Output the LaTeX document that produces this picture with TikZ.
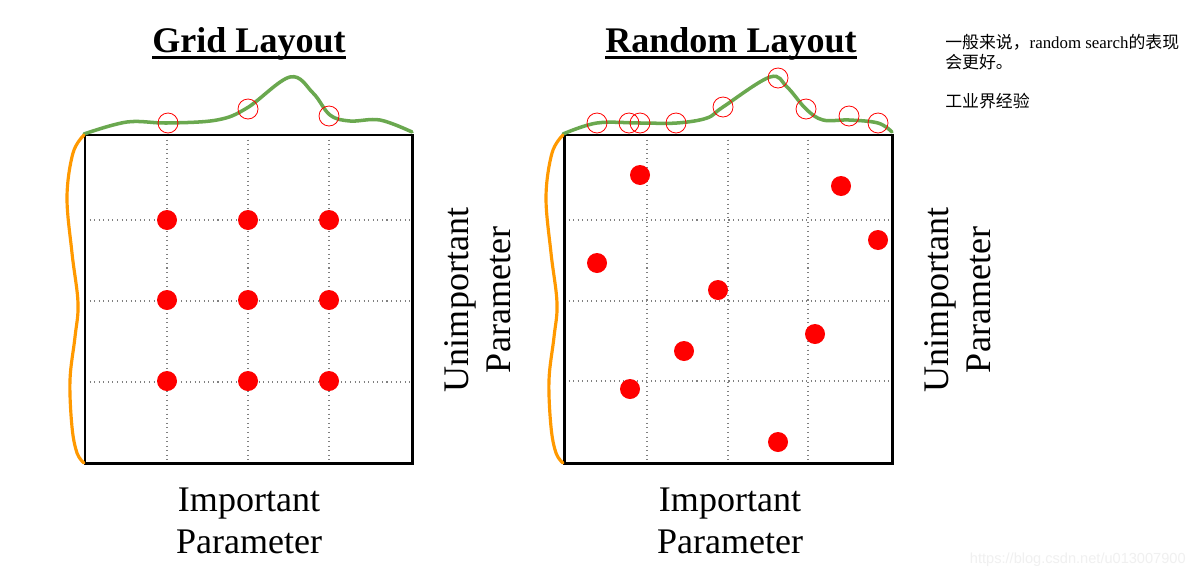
\documentclass[tikz,border=0pt]{standalone}
\usepackage{fontspec}
\setmainfont{Liberation Serif}
\setsansfont{Liberation Sans}
\newfontfamily\cjk{Noto Sans CJK SC}
\usetikzlibrary{calc}
\definecolor{curvegreen}{RGB}{106,168,79}
\definecolor{curveorange}{RGB}{255,153,0}
\definecolor{markred}{RGB}{255,0,0}

\tikzset{
  frame/.style={line width=1.7pt},
  gridline/.style={gray,dotted,line width=0.6pt},
  goodcurve/.style={curvegreen,line width=2pt,line cap=round},
  sidecurve/.style={curveorange,line width=1.8pt,line cap=round},
  sample/.style={fill=markred},
  hit/.style={markred,line width=0.45pt},
  bigtext/.style={font=\fontsize{20.5}{23.5}\selectfont,align=center,inner sep=0pt},
  titletext/.style={font=\fontsize{20.5}{24}\selectfont\bfseries,inner sep=0pt},
}

\begin{document}
\begin{tikzpicture}[x=0.02cm,y=-0.02cm]
    \useasboundingbox[fill=white] (0,0) rectangle (1195,578);

    % grid layout
    \foreach \g in {167,248,329} {
      \draw[gridline] (\g,135) -- (\g,463);
      \draw[gridline] (85,\g-167+220) -- (412,\g-167+220);
    }
    \draw[frame] (85,135) rectangle (412,463);
    \foreach \gx in {167,248,329}
      \foreach \gy in {220,300,381}
        \fill[sample] (\gx,\gy) circle (10);
    \draw[goodcurve] plot[smooth,tension=0.6] coordinates {(84,134) (127,122) (167,123)
      (217,120) (247,108) (290,77) (313,93) (330,115) (350,121) (380,120) (412,132)};
    \draw[sidecurve] plot[smooth,tension=0.6] coordinates {(84,135) (73,153) (67,197)
      (72,253) (78,303) (75,337) (70,380) (72,427) (77,453) (84,463)};
    \foreach \hx/\hy in {168/123,248/109,329/116}
      \draw[hit] (\hx,\hy) circle (10);
    \node[titletext,anchor=base] (gridtitle) at (249,52) {Grid Layout};
    \draw[line width=1.7pt] ([yshift=-3.4pt]gridtitle.base west) -- ([yshift=-3.4pt]gridtitle.base east);
    \node[bigtext,anchor=base] (gridx) at (249,553) {Important\\Parameter};
    \node[bigtext,anchor=base,rotate=90] (gridy) at (510,300) {Unimportant\\Parameter};

    % random layout
    \foreach \g in {647,728,808} {
      \draw[gridline] (\g,135) -- (\g,463);
      \draw[gridline] (564,\g-647+220) -- (892,\g-647+220);
    }
    \draw[frame] (564,135) rectangle (892,463);
    \foreach \rx/\ry in {640/175,841/186,878/240,597/263,718/290,815/334,684/351,630/389,778/442}
      \fill[sample] (\rx,\ry) circle (10);
    \draw[goodcurve] plot[smooth,tension=0.6] coordinates {(563,134) (597,123) (640,123)
      (677,123) (707,118) (723,107) (770,77) (787,87) (806,109) (823,120) (849,120)
      (878,123) (892,132)};
    \draw[sidecurve] plot[smooth,tension=0.6] coordinates {(563,135) (552,153) (546,197)
      (551,253) (557,303) (554,337) (549,380) (551,427) (556,453) (563,463)};
    \foreach \hx/\hy in {597/123,629/123,640/123,676/123,723/107,778/78,806/109,849/116,878/123}
      \draw[hit] (\hx,\hy) circle (10);
    \node[titletext,anchor=base] (randtitle) at (731,52) {Random Layout};
    \draw[line width=1.7pt] ([yshift=-3.4pt]randtitle.base west) -- ([yshift=-3.4pt]randtitle.base east);
    \node[bigtext,anchor=base] (randx) at (730,553) {Important\\Parameter};
    \node[bigtext,anchor=base,rotate=90] (randy) at (990,300) {Unimportant\\Parameter};

    % notes
    \node[anchor=north west,align=left,inner sep=0pt,font=\fontsize{9.6}{11.2}\selectfont] (note)
      at (945,34) {{\cjk 一般来说，}random search{\cjk 的表现}\\{\cjk 会更好。}\\[11.2pt]{\cjk 工业界经验}};
    \node[anchor=base east,inner sep=0pt,text=gray!12,font=\sffamily\fontsize{8.3}{10}\selectfont] (mark)
      at (1186,563) {https://blog.csdn.net/u013007900};
\end{tikzpicture}
\end{document}
